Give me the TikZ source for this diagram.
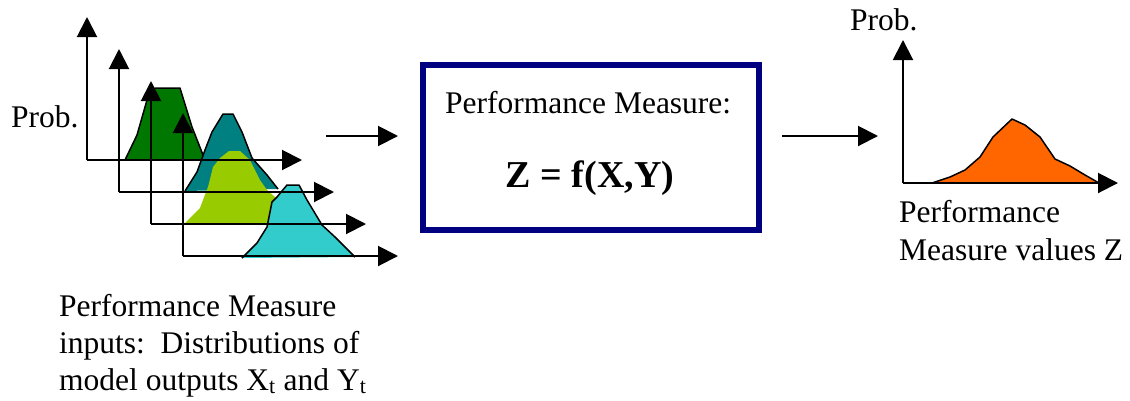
\documentclass[tikz,border=0pt]{standalone}
\usepackage{fontspec}
\setmainfont{Liberation Serif}
\usetikzlibrary{arrows.meta}
\definecolor{dgreen}{RGB}{0,119,0}
\definecolor{tealc}{RGB}{0,128,128}
\definecolor{lgreen}{RGB}{153,204,0}
\definecolor{cyanc}{RGB}{51,204,204}
\definecolor{orangec}{RGB}{255,102,0}
\definecolor{navyc}{RGB}{0,0,128}
\tikzset{
  axis/.style={line width=2pt, -{Triangle[length=20pt,width=20pt]}},
  flow/.style={line width=2pt, -{Triangle[length=20pt,width=20pt]}},
  dist/.style={draw=black, line width=1.5pt, line join=round},
  lbl/.style={inner sep=0pt, anchor=base west, font=\fontsize{31.5}{37}\selectfont},
  fbox/.style={draw=navyc, line width=6pt, fill=white},
}
\begin{document}
\begin{tikzpicture}[x=1pt,y=-1pt]
\useasboundingbox[fill=white] (0,0) rectangle (1130,400);
% distributions
\fill[dgreen] (125,160) -- (137,135) -- (147,100) -- (155,88) -- (180,88) -- (192,127) -- (205,160) -- cycle;
\draw[dist] (125,160) -- (137,135) -- (147,100) -- (155,88) -- (180,88) -- (192,127) -- (205,160);
\fill[tealc] (185,191) -- (197,172) -- (205,150) -- (212,132) -- (223,114) -- (233,114) -- (242,132) -- (252,158) -- (267,175) -- (278,189) -- cycle;
\draw[dist] (185,191) -- (197,172) -- (205,150) -- (212,132) -- (223,114) -- (233,114) -- (242,132) -- (252,158) -- (267,175) -- (278,189);
\fill[lgreen] (185,223) -- (200,208) -- (203,200) -- (208,187) -- (213,167) -- (220,158) -- (229,151) -- (240,151) -- (250,160) -- (260,180) -- (267,190) -- (275,197) -- (290,223) -- cycle;
\fill[cyanc] (242,258) -- (257,243) -- (267,227) -- (272,202) -- (277,197) -- (287,185) -- (299,185) -- (307,200) -- (322,225) -- (335,237) -- (355,257) -- cycle;
\draw[dist] (242,258) -- (257,243) -- (267,227) -- (272,202) -- (277,197) -- (287,185) -- (299,185) -- (307,200) -- (322,225) -- (335,237) -- (355,257);
% axes
\foreach \i in {0,1,2,3}{
  \coordinate (o\i) at ({87+32*\i},{160+32*\i});
  \coordinate (y\i) at ({87+32*\i},{17+32*\i});
  \coordinate (x\i) at ({302+32*\i},{160+32*\i});
  \draw[axis] (o\i) -- (y\i);
  \draw[axis] (o\i) -- (x\i);
}
\node[lbl] (probL) at (11,127) {Prob.};
% box
\node[fbox, minimum width=336pt, minimum height=165pt] (box) at (591,147.5) {};
\node[lbl] (pm) at (445,113) {Performance Measure:};
\node[inner sep=0pt, anchor=base, font=\fontsize{38}{44}\selectfont\bfseries] (zf) at (590,187) {Z = f(X,Y)};
% flow arrows
\coordinate (a1s) at (326,136); \coordinate (a1e) at (398,136);
\coordinate (a2s) at (782,136); \coordinate (a2e) at (878,136);
\draw[flow] (a1s) -- (a1e);
\draw[flow] (a2s) -- (a2e);
% output distribution
\fill[orangec] (932,183) -- (950,177) -- (965,170) -- (980,157) -- (993,137) -- (1012,119) -- (1025,125) -- (1040,137) -- (1055,159) -- (1070,166) -- (1085,175) -- (1099,183) -- cycle;
\draw[dist] (932,183) -- (950,177) -- (965,170) -- (980,157) -- (993,137) -- (1012,119) -- (1025,125) -- (1040,137) -- (1055,159) -- (1070,166) -- (1085,175) -- (1099,183);
\coordinate (oz) at (903,183);
\coordinate (yz) at (903,40);
\coordinate (xz) at (1118,183);
\draw[axis] (oz) -- (yz);
\draw[axis] (oz) -- (xz);
\node[lbl] (probR) at (850,30) {Prob.};
\node[lbl] (pv1) at (899,222) {Performance};
\node[lbl] (pv2) at (899,260) {Measure values Z};
% bottom caption
\node[lbl] (c1) at (59,316) {Performance Measure};
\node[lbl] (c2) at (59,353) {inputs:\ \ Distributions of};
\node[lbl] (c3) at (59,390) {model outputs X\textsubscript{t} and Y\textsubscript{t}};
\end{tikzpicture}
\end{document}
